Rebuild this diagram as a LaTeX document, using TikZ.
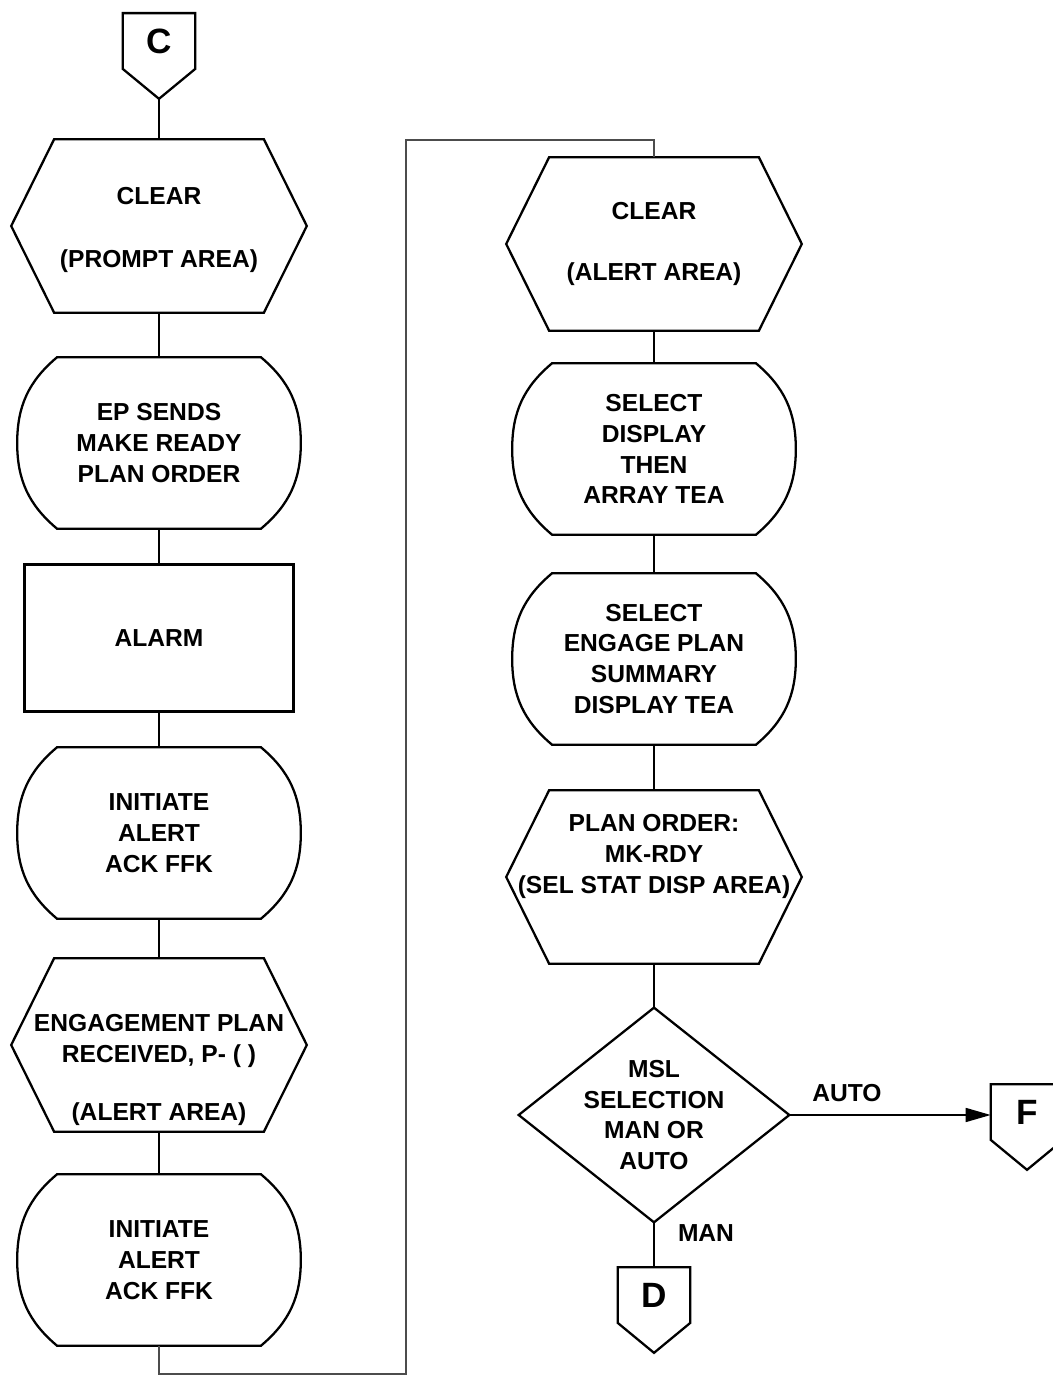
\documentclass[tikz,border=0pt]{standalone}
\usepackage{fontspec}
\setsansfont{Liberation Sans}
\usetikzlibrary{arrows.meta, positioning, calc}

\begin{document}
\begin{tikzpicture}[
    x=0.02cm, y=0.02cm,
    base/.style={rectangle, inner sep=0pt, align=center, font=\sffamily\bfseries\fontsize{14}{17.6}\selectfont},
    hexbox/.style={base, minimum width=5.9cm, minimum height=3.46cm},
    roundbox/.style={base, minimum width=5.66cm, minimum height=3.42cm},
    plainbox/.style={base, draw, line width=1.3pt, minimum width=5.38cm, minimum height=2.94cm},
    decbox/.style={base, minimum width=5.4cm, minimum height=4.28cm},
    offpage/.style={base, minimum width=1.44cm, minimum height=1.1cm, font=\sffamily\bfseries\fontsize{20}{24}\selectfont},
    lbl/.style={font=\sffamily\bfseries\fontsize{14}{17.6}\selectfont},
    outline/.style={line width=1.3pt, line join=miter},
    link/.style={line width=0.6pt},
    route/.style={line width=0.6pt, black!70},
    flow/.style={line width=0.9pt, -{Triangle[length=0.5cm, width=0.28cm]}}
  ]
  \path[use as bounding box, fill=white] (0,0) rectangle (1053,1376);

  % left column
  \node[offpage] (cin) at (159,1335) {C};
  \node[hexbox] (clr1) at (159,1150) {\mbox{}\\[-0.12cm]CLEAR\\[0.64cm](PROMPT AREA)};
  \node[roundbox] (eps) at (159,933) {EP SENDS\\MAKE READY\\PLAN ORDER};
  \node[plainbox] (alarm) at (159,738) {ALARM};
  \node[roundbox] (ini1) at (159,543) {INITIATE\\ALERT\\ACK FFK};
  \node[hexbox] (eng) at (159,331) {\mbox{}\\[0.74cm]ENGAGEMENT PLAN\\RECEIVED, P- ( )\\[0.54cm](ALERT AREA)};
  \node[roundbox] (ini2) at (159,116) {INITIATE\\ALERT\\ACK FFK};

  % right column
  \node[hexbox] (clr2) at (654,1132) {CLEAR\\[0.6cm](ALERT AREA)};
  \node[roundbox] (sdisp) at (654,927) {SELECT\\DISPLAY\\THEN\\ARRAY TEA};
  \node[roundbox] (seng) at (654,717) {SELECT\\ENGAGE PLAN\\SUMMARY\\DISPLAY TEA};
  \node[hexbox] (plan) at (654,499) {PLAN ORDER:\\MK-RDY\\(SEL STAT DISP AREA)\\[0.3cm]\mbox{}};
  \node[decbox] (dec) at (654,261) {MSL\\SELECTION\\MAN OR\\AUTO};
  \node[offpage] (dout) at (654,81) {D};
  \node[offpage] (fout) at (1027,264) {F};

  \node[lbl] (auto) at (847,283) {AUTO};
  \node[lbl] (man) at (706,143) {MAN};

  % outlines
  \foreach \n in {clr1,eng,clr2,plan}
    \draw[outline] (\n.west) -- ([xshift=0.86cm]\n.north west) -- ([xshift=-0.86cm]\n.north east)
      -- (\n.east) -- ([xshift=-0.86cm]\n.south east) -- ([xshift=0.86cm]\n.south west) -- cycle;
  \foreach \n in {eps,ini1,ini2,sdisp,seng}
    \draw[outline] (\n.west) to[out=90,in=-140] ([xshift=0.8cm]\n.north west)
      -- ([xshift=-0.8cm]\n.north east) to[out=-40,in=90] (\n.east)
      to[out=-90,in=40] ([xshift=-0.8cm]\n.south east)
      -- ([xshift=0.8cm]\n.south west) to[out=140,in=-90] (\n.west) -- cycle;
  \draw[outline] (dec.north) -- (dec.east) -- (dec.south) -- (dec.west) -- cycle;
  \foreach \n in {cin,dout,fout}
    \draw[outline] (\n.south west) -- (\n.north west) -- (\n.north east)
      -- (\n.south east) -- ([yshift=-0.6cm]\n.south) -- cycle;

  % connectors
  \coordinate (ctip) at ([yshift=-0.6cm]cin.south);
  \draw[link] (ctip) -- (clr1.north);
  \draw[link] (clr1.south) -- (eps.north);
  \draw[link] (eps.south) -- (alarm.north);
  \draw[link] (alarm.south) -- (ini1.north);
  \draw[link] (ini1.south) -- (eng.north);
  \draw[link] (eng.south) -- (ini2.north);

  \coordinate (lowturn) at (406,2);
  \coordinate (highturn) at (406,1236);
  \draw[route] (ini2.south) |- (lowturn) -- (highturn) -| (clr2.north);

  \draw[link] (clr2.south) -- (sdisp.north);
  \draw[link] (sdisp.south) -- (seng.north);
  \draw[link] (seng.south) -- (plan.north);
  \draw[link] (plan.south) -- (dec.north);
  \draw[link] (dec.south) -- (dout.north);
  \draw[flow] (dec.east) -- (dec.east -| fout.west);
\end{tikzpicture}
\end{document}
